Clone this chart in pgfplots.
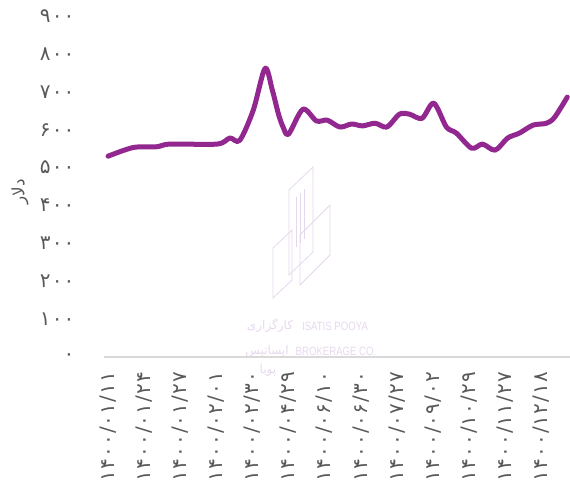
\documentclass[border=0pt]{standalone}
\usepackage{fontspec}
\usepackage{pgfplots}
\pgfplotsset{compat=1.18}
\setmainfont{Liberation Sans}
\TeXXeTstate=1
\newfontfamily\arabicfont[Script=Arabic]{DejaVu Sans}
\newfontfamily\digitfont[Script=Arabic, LetterSpace=6]{DejaVu Sans}
\definecolor{lineP}{HTML}{92278F}
\definecolor{tickG}{HTML}{595959}
\definecolor{axG}{HTML}{D9D9D9}
\definecolor{wm}{HTML}{E6D8EC}
\pgfplotstableread{
x y
0 530
2.8 553
5.4 555
6.9 562
12.1 562
13.5 578
14.6 572
16.1 652
17.4 762
18.2 705
18.9 640
19.4 607
20.0 588
21.6 654
23.1 623
24.3 625
25.7 607
27.0 615
28.2 610
29.6 617
30.9 607
32.3 641
33.4 641
34.8 630
36.1 670
37.5 607
38.6 591
40.3 551
41.5 562
42.9 546
44.3 578
45.6 591
47.1 612
48.6 617
49.5 633
50.9 686
}\pricedata
\begin{document}
\begin{tikzpicture}
\useasboundingbox (-104pt,-131pt) rectangle (466pt,357pt);
% watermark
\begin{scope}[draw=wm, line width=0.8pt]
\draw (169pt,59pt) -- (169pt,109pt) -- (188pt,127pt) -- (188pt,77pt) -- cycle;
\draw (185pt,82pt) -- (185pt,167pt) -- (209pt,190pt) -- (209pt,105pt) -- cycle;
\draw (196pt,72pt) -- (196pt,122pt) -- (226pt,152pt) -- (226pt,102pt) -- cycle;
\draw (192pt,160pt) -- (192pt,110pt);
\draw (196pt,164pt) -- (196pt,114pt);
\draw (200pt,168pt) -- (200pt,118pt);
\end{scope}
\node[text=wm, font=\arabicfont\fontsize{12}{13}\selectfont] at (166pt,31pt) {\beginR کارگزاری\endR};
\node[text=wm, font=\arabicfont\fontsize{12}{13}\selectfont] at (163pt,6pt) {\beginR ایساتیس\endR};
\node[text=wm, font=\arabicfont\fontsize{12}{13}\selectfont] at (164pt,-13pt) {\beginR پویا\endR};
\node[text=wm, font=\fontsize{12}{13}\selectfont, xscale=0.8] at (231pt,31pt) {ISATIS POOYA};
\node[text=wm, font=\fontsize{12}{13}\selectfont, xscale=0.8] at (232pt,6pt) {BROKERAGE CO.};
\begin{axis}[
  at={(0pt,0pt)}, anchor=south west,
  width=466pt, height=341pt, scale only axis,
  xmin=-0.45, xmax=51.2, ymin=0, ymax=900,
  axis x line*=bottom, axis y line*=left,
  x axis line style={draw=axG, line width=1.6pt, -},
  y axis line style={draw=none},
  major tick length=0pt,
  ytick={0,100,200,300,400,500,600,700,800,900},
  yticklabels={۰,۱۰۰,۲۰۰,۳۰۰,۴۰۰,۵۰۰,۶۰۰,۷۰۰,۸۰۰,۹۰۰},
  xtick={0,4,8,12,16,20,24,28,32,36,40,44,48},
  xticklabels={۱۴۰۰/۰۱/۱۱,۱۴۰۰/۰۱/۲۴,۱۴۰۰/۰۱/۲۷,۱۴۰۰/۰۲/۰۱,۱۴۰۰/۰۲/۳۰,۱۴۰۰/۰۴/۲۹,۱۴۰۰/۰۶/۱۰,۱۴۰۰/۰۶/۳۰,۱۴۰۰/۰۷/۲۷,۱۴۰۰/۰۹/۰۲,۱۴۰۰/۱۰/۲۹,۱۴۰۰/۱۱/۲۷,۱۴۰۰/۱۲/۱۸},
  yticklabel style={font=\digitfont\fontsize{20}{21}\selectfont, text=tickG, anchor=east, xshift=-26pt},
  xticklabel style={font=\digitfont\fontsize{20}{21}\selectfont, text=tickG, rotate=90, anchor=east, xshift=-11pt},
  ylabel={\arabicfont\beginR دلار\endR},
  ylabel style={font=\fontsize{17}{18}\selectfont, text=tickG, at={(rel axis cs:0,0.484)}, anchor=center, yshift=84pt},
  clip=false,
]
\addplot[lineP, line width=5pt, smooth, tension=0.5, line cap=round, line join=round] table[x=x,y=y] {\pricedata};
\end{axis}
\end{tikzpicture}
\end{document}
